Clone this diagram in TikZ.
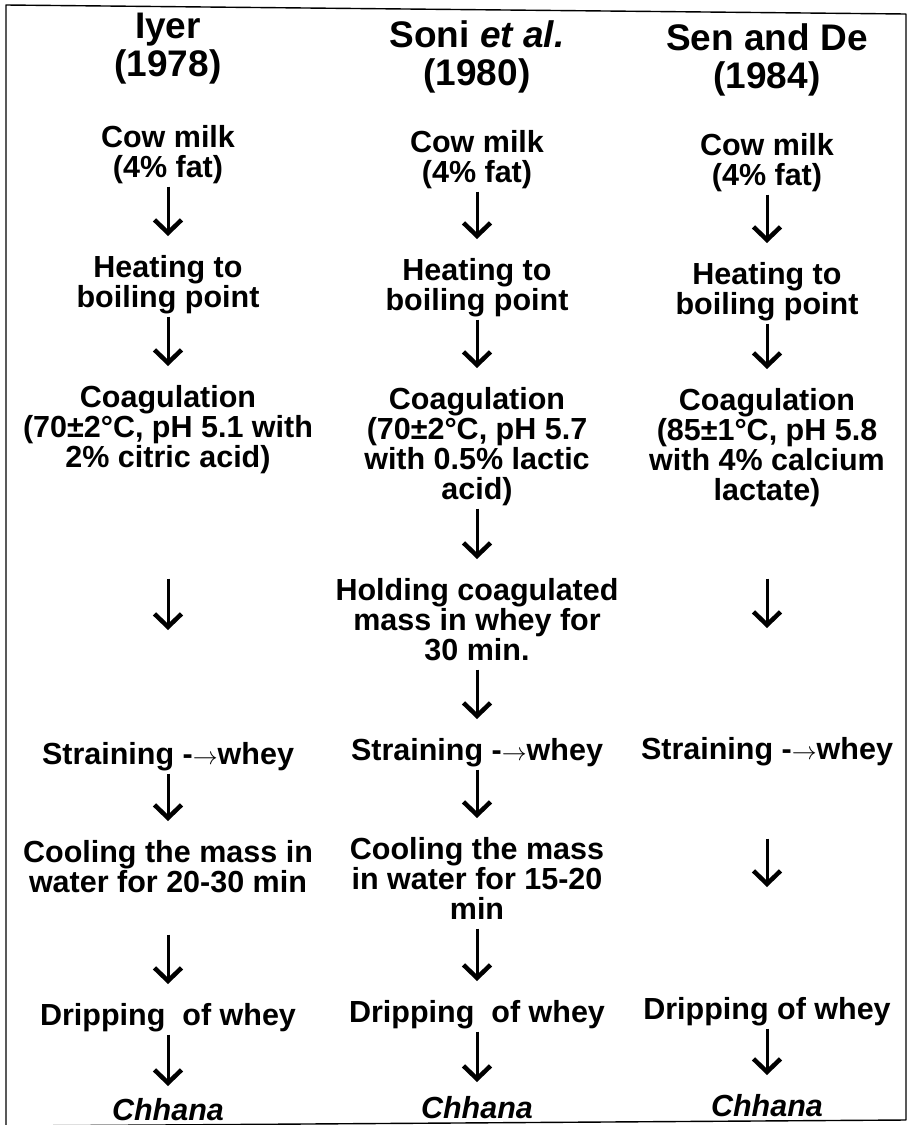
\documentclass[tikz,border=0pt]{standalone}
\usepackage{fontspec}
\setmainfont{Liberation Sans}
\usetikzlibrary{arrows.meta}
\newcommand{\bodyfont}{\fontsize{30.5}{30}\selectfont\bfseries}
\newcommand{\headfont}{\fontsize{37}{38}\selectfont\bfseries}
\begin{document}
\begin{tikzpicture}[x=1pt, y=-1pt, line join=round,
  box/.style={anchor=north, inner sep=0pt, align=center, text depth=0pt, font=\bodyfont},
  head/.style={box, font=\headfont},
  flow/.style={line width=3pt, -{Straight Barb[length=13pt,width=27pt,line width=4.5pt]}, shorten <=9pt, shorten >=19pt}]
\def\xa{168} \def\xb{477} \def\xc{767} % column centres
\useasboundingbox (0,0) rectangle (911,1125);
\draw[line width=1.4pt] (6,5) -- (906,14) -- (906,1120) -- (6,1126) -- cycle;
% Iyer (1978)
\node[head] (title1) at (\xa,13) {Iyer\\(1978)};
\node[box] (milk1) at (\xa,125) {Cow milk\\(4\% fat)};
\node[box] (heat1) at (\xa,255) {Heating to\\boiling point};
\node[box] (coag1) at (\xa,385) {Coagulation\\(70±2°C, pH 5.1 with\\2\% citric acid)};
\node[box] (strain1) at (\xa,742) {Straining -$\rightarrow$whey};
\node[box] (cool1) at (\xa,840) {Cooling the mass in\\water for 20-30 min};
\node[box] (drip1) at (\xa,1003) {Dripping\ \ of whey};
\node[box] (chh1) at (\xa,1098) {\itshape Chhana};
\draw[flow] (milk1) -- (heat1);
\draw[flow] (heat1) -- (coag1);
\draw[flow, shorten <=111pt, shorten >=112pt] (coag1) -- (strain1);
\draw[flow] (strain1) -- (cool1);
\draw[flow, shorten <=42pt] (cool1) -- (drip1);
\draw[flow, shorten >=12pt] (drip1) -- (chh1);
% Soni et al. (1980)
\node[head] (title2) at (\xb,20) {Soni \textit{et al.}\\(1980)};
\node[box] (milk2) at (\xb,130) {Cow milk\\(4\% fat)};
\node[box] (heat2) at (\xb,258) {Heating to\\boiling point};
\node[box] (coag2) at (\xb,387) {Coagulation\\(70±2°C, pH 5.7\\with 0.5\% lactic\\acid)};
\node[box] (hold2) at (\xb,578) {Holding coagulated\\mass in whey for\\30 min.};
\node[box] (strain2) at (\xb,738) {Straining -$\rightarrow$whey};
\node[box] (cool2) at (\xb,837) {Cooling the mass\\in water for 15-20\\min};
\node[box] (drip2) at (\xb,1000) {Dripping\ \ of whey};
\node[box] (chh2) at (\xb,1096) {\itshape Chhana};
\draw[flow] (milk2) -- (heat2);
\draw[flow] (heat2) -- (coag2);
\draw[flow] (coag2) -- (hold2);
\draw[flow] (hold2) -- (strain2);
\draw[flow] (strain2) -- (cool2);
\draw[flow] (cool2) -- (drip2);
\draw[flow, shorten >=14pt] (drip2) -- (chh2);
% Sen and De (1984)
\node[head] (title3) at (\xc,23) {Sen and De\\(1984)};
\node[box] (milk3) at (\xc,133) {Cow milk\\(4\% fat)};
\node[box] (heat3) at (\xc,262) {Heating to\\boiling point};
\node[box] (coag3) at (\xc,388) {Coagulation\\(85±1°C, pH 5.8\\with 4\% calcium\\lactate)};
\node[box] (strain3) at (\xc,737) {Straining -$\rightarrow$whey};
\node[box] (drip3) at (\xc,997) {Dripping of whey};
\node[box] (chh3) at (\xc,1094) {\itshape Chhana};
\draw[flow] (milk3) -- (heat3);
\draw[flow] (heat3) -- (coag3);
\draw[flow, shorten <=78pt, shorten >=109pt] (coag3) -- (strain3);
\draw[flow, shorten <=79pt, shorten >=110pt] (strain3) -- (drip3);
\draw[flow] (drip3) -- (chh3);
\end{tikzpicture}
\end{document}
